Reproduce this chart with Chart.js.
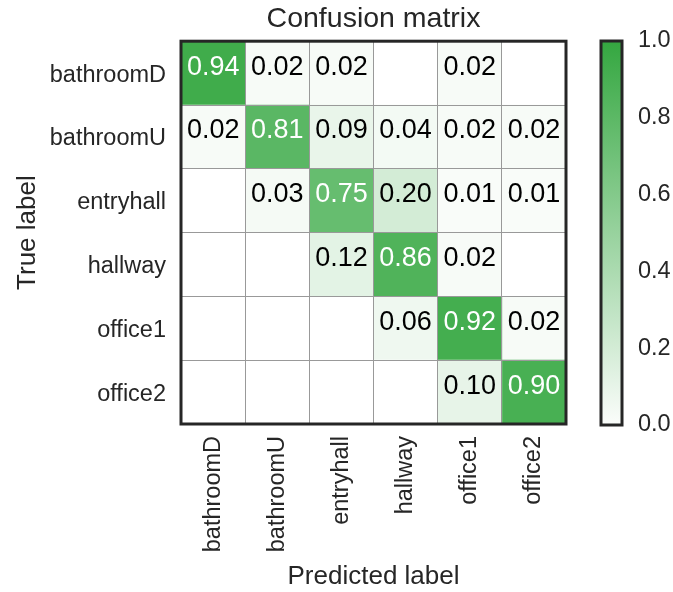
<!DOCTYPE html>
<html>
<head>
<meta charset="utf-8">
<title>Confusion matrix</title>
<script src="https://cdn.jsdelivr.net/npm/chart.js@4/dist/chart.umd.min.js"></script>
<style>
body{margin:0;background:#fff;}
#wrap{position:relative;width:673px;height:592px;}
#matrix{position:absolute;left:0;top:0;}
#cbar{position:absolute;left:580px;top:0;}
</style>
</head>
<body>
<div id="wrap">
<canvas id="matrix" width="673" height="592"></canvas>
<canvas id="cbar" width="93" height="592"></canvas>
</div>
<script>
var trueLabels = ["bathroomD","bathroomU","entryhall","hallway","office1","office2"];
var predLabels = ["bathroomD","bathroomU","entryhall","hallway","office1","office2"];

// one row per true label, one column per predicted label
var rowBathroomD = [0.94,0.02,0.02,0.00,0.02,0.00];
var rowBathroomU = [0.02,0.81,0.09,0.04,0.02,0.02];
var rowEntryhall = [0.00,0.03,0.75,0.20,0.01,0.01];
var rowHallway   = [0.00,0.00,0.12,0.86,0.02,0.00];
var rowOffice1   = [0.00,0.00,0.00,0.06,0.92,0.02];
var rowOffice2   = [0.00,0.00,0.00,0.00,0.10,0.90];
var matrix = [rowBathroomD,rowBathroomU,rowEntryhall,rowHallway,rowOffice1,rowOffice2];

var cbarTicks = [0,0.2,0.4,0.6,0.8,1.0];

var FONT = "'Liberation Sans', Arial, sans-serif";
var DARK = "#262626";

var lowColor = [251,253,251];
var highColor = [52,167,64];

function colorAt(v){
	var c = [];
	for(var k=0;k<3;k++){
		c.push(Math.round(lowColor[k] + (highColor[k]-lowColor[k])*v));
	}
	return 'rgb('+c.join(',')+')';
}

// each column is a stacked dataset of unit cells, empty cells stay white
var datasets = [];
for(var j=0;j<predLabels.length;j++){
	var bg = [];
	var ones = [];
	for(var i=0;i<trueLabels.length;i++){
		bg.push(matrix[i][j]>0 ? colorAt(matrix[i][j]) : '#ffffff');
		ones.push(1);
	}
	datasets.push({label:predLabels[j],data:ones,backgroundColor:bg,borderWidth:0,barPercentage:1,categoryPercentage:1});
}

var cellText = {
	id:'cellText',
	afterDatasetsDraw: function(chart){
		var ctx = chart.ctx;
		ctx.save();
		ctx.font = "27px "+FONT;
		ctx.textAlign = 'center';
		ctx.textBaseline = 'middle';
		for(var j=0;j<chart.data.datasets.length;j++){
			var meta = chart.getDatasetMeta(j);
			for(var i=0;i<meta.data.length;i++){
				var v = matrix[i][j];
				if(v<=0) continue;
				var p = meta.data[i].getCenterPoint();
				ctx.fillStyle = v>0.5 ? '#ffffff' : '#000000';
				ctx.fillText(v.toFixed(2),p.x,p.y-6);
			}
		}
		ctx.restore();
	}
};

var frame = {
	id:'frame',
	afterDraw: function(chart){
		var a = chart.chartArea;
		var ctx = chart.ctx;
		ctx.save();
		ctx.strokeStyle = DARK;
		ctx.lineWidth = 3;
		ctx.strokeRect(a.left,a.top,a.right-a.left,a.bottom-a.top);
		ctx.restore();
	}
};

new Chart(document.getElementById('matrix'),{
	type:'bar',
	data:{labels:trueLabels,datasets:datasets},
	plugins:[cellText,frame],
	options:{
		responsive:false,
		animation:false,
		indexAxis:'y',
		layout:{padding:{left:0,right:107,top:0,bottom:0}},
		plugins:{
			legend:{display:false},
			tooltip:{enabled:false},
			title:{display:true,fullSize:false,align:'center',text:'Confusion matrix',color:DARK,font:{family:FONT,size:28.5,weight:'normal'},padding:{top:2,bottom:5}}
		},
		scales:{
			x:{
				type:'linear',stacked:true,min:0,max:6,position:'bottom',
				ticks:{display:false,stepSize:1},
				grid:{color:'#999999',lineWidth:1,drawTicks:false,z:1},
				border:{display:false},
				afterFit:function(s){s.height=0;}
			},
			xl:{
				type:'category',labels:predLabels,position:'bottom',offset:true,
				grid:{display:false,drawTicks:false},
				border:{display:false},
				ticks:{color:DARK,font:{family:FONT,size:23.5},minRotation:90,maxRotation:90,padding:12,autoSkip:false},
				title:{display:true,text:'Predicted label',color:DARK,font:{family:FONT,size:26},padding:0},
				afterFit:function(s){s.height=168;}
			},
			y:{
				type:'category',stacked:true,
				grid:{color:'#999999',lineWidth:1,drawTicks:false,offset:true,z:1},
				border:{display:false},
				ticks:{color:DARK,font:{family:FONT,size:23.5},padding:15,labelOffset:2,autoSkip:false},
				title:{display:true,text:'True label',color:DARK,font:{family:FONT,size:26},padding:{top:12,bottom:0}},
				afterFit:function(s){s.width=181;}
			}
		}
	}
});

// colour bar
new Chart(document.getElementById('cbar'),{
	type:'bar',
	data:{labels:['v'],datasets:[{
		data:[1],
		borderWidth:0,barPercentage:1,categoryPercentage:1,
		backgroundColor:function(c){
			var a = c.chart.chartArea;
			if(!a) return colorAt(0.5);
			var g = c.chart.ctx.createLinearGradient(0,a.bottom,0,a.top);
			g.addColorStop(0,colorAt(0));
			g.addColorStop(1,colorAt(1));
			return g;
		}
	}]},
	plugins:[frame],
	options:{
		responsive:false,
		animation:false,
		layout:{padding:{left:21,right:0,top:41,bottom:167}},
		plugins:{legend:{display:false},tooltip:{enabled:false}},
		scales:{
			x:{display:false},
			y:{
				position:'right',min:0,max:1,
				afterBuildTicks:function(s){s.ticks=cbarTicks.map(function(v){return {value:v};});},
				grid:{display:false,drawTicks:false},
				border:{display:false},
				ticks:{color:DARK,font:{family:FONT,size:23.5},padding:16,callback:function(v){return Number(v).toFixed(1);}},
				afterFit:function(s){s.width=51;}
			}
		}
	}
});
</script>
</body>
</html>
